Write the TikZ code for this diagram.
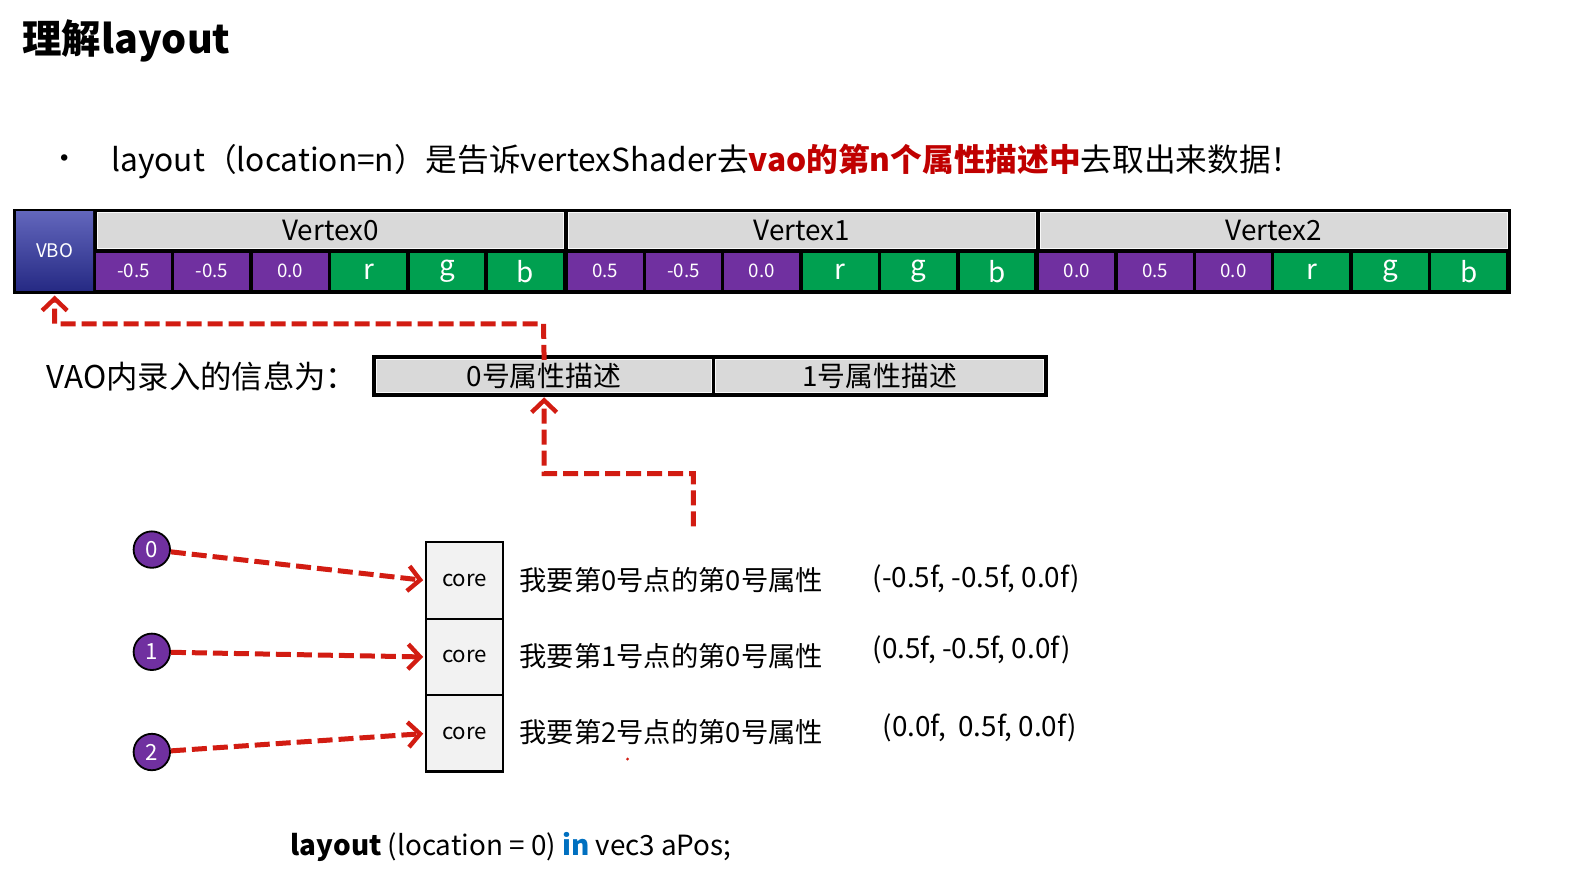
\documentclass[tikz,border=0pt]{standalone}
\usepackage{fontspec}
\setmainfont{Noto Sans CJK SC}
\usetikzlibrary{arrows.meta,calc}

\definecolor{vpurple}{RGB}{112,48,160}
\definecolor{vgreen}{RGB}{0,160,80}
\definecolor{hgray}{RGB}{217,217,217}
\definecolor{cgray}{RGB}{242,242,242}
\definecolor{dred}{RGB}{210,28,18}
\definecolor{tred}{RGB}{192,0,0}
\definecolor{kblue}{RGB}{0,112,192}
\definecolor{vbotop}{RGB}{98,102,188}
\definecolor{vbobot}{RGB}{38,42,132}

\newcommand{\fs}[1]{\fontsize{#1}{#1}\selectfont}

\tikzset{
  box/.style={rectangle, inner sep=0pt, outer sep=0pt},
  hdr/.style={box, fill=hgray, draw=white!85!hgray, line width=0.8pt,
    minimum width=461, minimum height=36, font=\fs{27.5}},
  poscell/.style={box, fill=vpurple, text=white, minimum width=74,
    minimum height=37, font=\fs{18.5}},
  colcell/.style={box, fill=vgreen, text=white, minimum width=74,
    minimum height=37, font=\fs{27.5}},
  attr/.style={box, fill=hgray, draw=white!85!hgray, line width=0.8pt,
    minimum height=32, font=\fs{27.5}},
  corebox/.style={box, fill=cgray, draw=black, line width=2.2pt,
    minimum width=76, minimum height=75.5, font=\fs{22}},
  idx/.style={circle, fill=vpurple, draw=black, line width=1.8pt,
    minimum size=36, inner sep=0pt, text=white, font=\fs{22}},
  txt/.style={anchor=west, inner sep=0pt, font=\fs{27}},
  link/.style={draw=dred, line width=5pt, dash pattern=on 15pt off 6pt,
    -{Straight Barb[length=12pt,width=25pt,line width=4.4pt]}},
}

\begin{document}
\begin{tikzpicture}[x=1pt, y=-1pt, scale=1.0121, every node/.append style={transform shape}]
\useasboundingbox (0,0) rectangle (1568,876);

% heading and bullet line
\node[txt, font=\fs{39}\bfseries] (title) at (22,40) {理解layout};
\node[font=\fs{30}, inner sep=0pt] (dot) at (64,160) {•};
\node[txt, font=\fs{31.3}] (bullet) at (110,160)
  {layout（location=n）是告诉vertexShader去\textcolor{tred}{\bfseries vao的第n个属性描述中}去取出来数据！};

% vertex buffer strip
\node[box, fill=black, minimum width=1480, minimum height=84] (strip) at (753,248) {};
\node[box, top color=vbotop, bottom color=vbobot, minimum width=76,
  minimum height=78, text=white, font=\fs{18.5}] (vbo) at (54,248) {VBO};
\foreach \v in {0,1,2} {
  \node[hdr] (h\v) at ({95+466*\v+231.5},227.5) {Vertex\v};
}
\foreach \v/\a/\b/\c in {0/-0.5/-0.5/0.0, 1/0.5/-0.5/0.0, 2/0.0/0.5/0.0} {
  \node[poscell] (p\v a) at ({95+466*\v+37},268) {\a};
  \node[poscell] (p\v b) at ({95+466*\v+37+77.4},268) {\b};
  \node[poscell] (p\v c) at ({95+466*\v+37+2*77.4},268) {\c};
  \node[colcell] (c\v r) at ({95+466*\v+37+3*77.4},268) {r};
  \node[colcell] (c\v g) at ({95+466*\v+37+4*77.4},268) {g};
  \node[colcell] (c\v b) at ({95+466*\v+37+5*77.4},268) {b};
}

% VAO attribute descriptions
\node[txt, font=\fs{31}] (vaolabel) at (46,372) {VAO内录入的信息为：};
\node[box, fill=black, minimum width=667, minimum height=41] (vao) at (701.5,371.5) {};
\node[attr, minimum width=331] (attr0) at (537.5,371.5) {0号属性描述};
\node[attr, minimum width=324] (attr1) at (869,371.5) {1号属性描述};

\draw[link, shorten >=5pt] (attr0.north) -- (537,320) -| (vbo.south);

% vertex shader invocations
\coordinate (req) at (685,520);
\draw[link, shorten >=5pt] (req) -- (685,468) -| (attr0.south);

\node[idx] (n0) at (150,543) {0};
\node[idx] (n1) at (150,644) {1};
\node[idx] (n2) at (150,743) {2};

\node[corebox] (core0) at (459,573.5) {core};
\node[corebox] (core1) at (459,649) {core};
\node[corebox] (core2) at (459,724.5) {core};

\draw[link, shorten >=3pt] (n0) -- (core0.west);
\draw[link, shorten >=3pt] (n1) -- (core1.west);
\draw[link, shorten >=3pt] (n2) -- (core2.west);

\node[txt] (q0) at (513,573) {我要第0号点的第0号属性};
\node[txt] (q1) at (513,648) {我要第1号点的第0号属性};
\node[txt] (q2) at (513,723) {我要第2号点的第0号属性};
\node[txt, font=\fs{27.5}] (v0) at (862,572) {(-0.5f, -0.5f, 0.0f)};
\node[txt, font=\fs{27.5}] (v1) at (862,642) {(0.5f, -0.5f, 0.0f)};
\node[txt, font=\fs{27.5}] (v2) at (872,719) {(0.0f,\ \ 0.5f, 0.0f)};

\fill[dred] (620,750) circle (1.6);

% shader source line
\node[txt, font=\fs{27.5}] (code) at (287,837)
  {\textbf{layout} (location = 0) \textcolor{kblue}{\textbf{in}} vec3 aPos;};
\end{tikzpicture}
\end{document}
